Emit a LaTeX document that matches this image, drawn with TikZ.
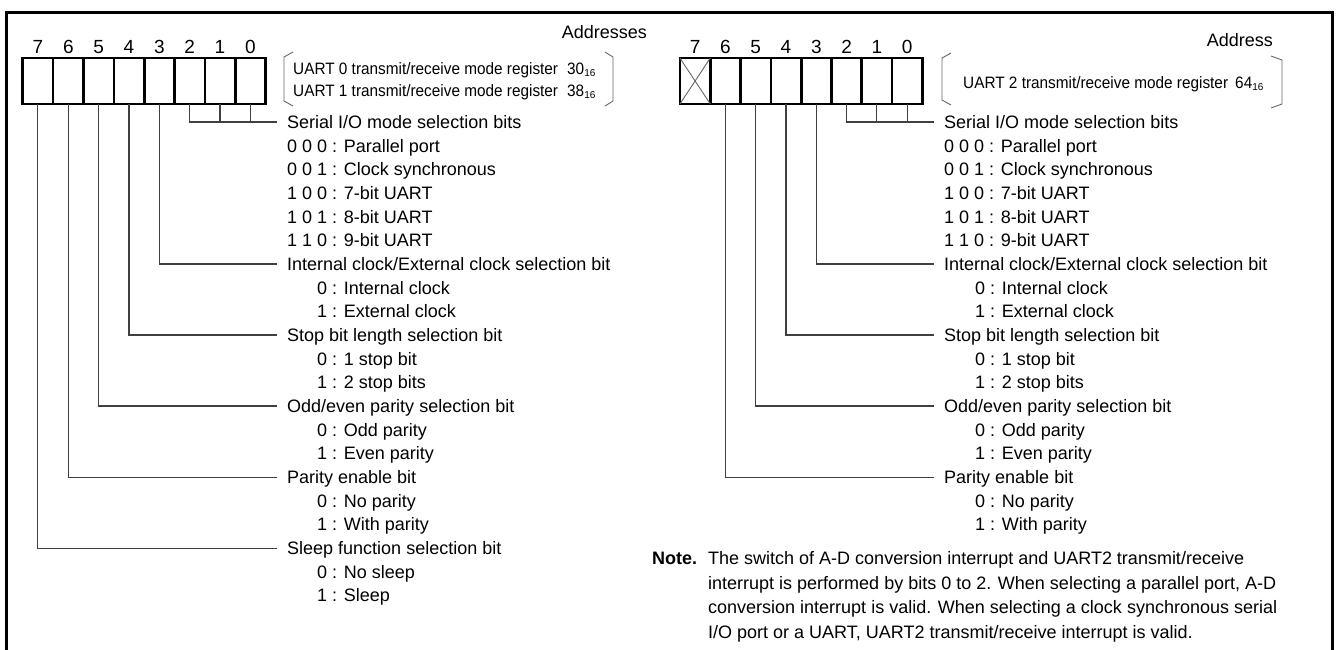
\documentclass[tikz,border=0pt]{standalone}
\usepackage{fontspec}
\setmainfont{Liberation Sans}
\begin{document}
\begin{tikzpicture}[x=1pt,y=-1pt,
  mainfont/.style={font=\fontsize{18}{20}\selectfont},
  lbl/.style={mainfont,anchor=west,inner xsep=10pt,inner ysep=0pt,text height=13pt,text depth=0pt},
  opt/.style={mainfont,anchor=west,inner xsep=0pt,inner ysep=0pt,text height=13pt,text depth=0pt},
  bitno/.style={font=\fontsize{19}{20}\selectfont,inner sep=0pt,text height=13.6pt,text depth=0pt},
  cell/.style={draw,line width=2.6pt,minimum width=30.4pt,minimum height=46pt,inner sep=0pt,outer sep=0pt},
  lead/.style={draw=black!75,line width=1.1pt},
  brk/.style={draw=black!60,line width=0.9pt},
  addr/.style={font=\fontsize{16.5}{18}\selectfont,anchor=west,inner sep=0pt,text height=12pt,text depth=0pt},
  hdr/.style={mainfont,inner sep=0pt,text height=13pt,text depth=0pt},
  note/.style={mainfont,anchor=west,inner sep=0pt,text height=13pt,text depth=0pt}]
\useasboundingbox (0,0) rectangle (1337,649);
\fill[white] (0,0) rectangle (1337,649);
% frame
\draw[line width=3pt] (6,660) -- (6,12) -- (1332,12) -- (1332,660);

% ===== left register =====
\foreach \b/\x in {7/37.9,6/68.3,5/98.6,4/129.0,3/159.3,2/189.7,1/220.0,0/250.4}{
  \node[cell] (Lc\b) at (\x,81) {};
  \node[bitno] (Lb\b) at (\x,47) {\b};
}
\node[hdr,anchor=east] (Laddrh) at (647,32) {Addresses};
\draw[brk] (293,52) -- (284,57) -- (284,101) -- (293,106);
\draw[brk] (605,52) -- (613,57) -- (613,101) -- (605,106);
\node[addr] (La0) at (293,68) {\scalebox{0.93}[1]{UART 0 transmit/receive mode register}};
\node[addr] (La0v) at (567,68) {\scalebox{0.93}[1]{30}{\fontsize{10}{10}\selectfont\raisebox{-2pt}{16}}};
\node[addr] (La1) at (293,90) {\scalebox{0.93}[1]{UART 1 transmit/receive mode register}};
\node[addr] (La1v) at (567,90) {\scalebox{0.93}[1]{38}{\fontsize{10}{10}\selectfont\raisebox{-2pt}{16}}};

\node[lbl] (Lser) at (277,122.0) {Serial I/O mode selection bits};
\node[opt] (Lser0) at (287,145.7) {0 0 0 : Parallel port};
\node[opt] (Lser1) at (287,169.3) {0 0 1 : Clock synchronous};
\node[opt] (Lser2) at (287,193.0) {1 0 0 : 7-bit UART};
\node[opt] (Lser3) at (287,216.7) {1 0 1 : 8-bit UART};
\node[opt] (Lser4) at (287,240.4) {1 1 0 : 9-bit UART};
\node[lbl] (Lclk) at (277,264.0) {Internal clock/External clock selection bit};
\node[opt] (Lclk0) at (317,287.7) {0 : Internal clock};
\node[opt] (Lclk1) at (317,311.4) {1 : External clock};
\node[lbl] (Lstp) at (277,335.0) {Stop bit length selection bit};
\node[opt] (Lstp0) at (317,358.7) {0 : 1 stop bit};
\node[opt] (Lstp1) at (317,382.4) {1 : 2 stop bits};
\node[lbl] (Lpar) at (277,406.0) {Odd/even parity selection bit};
\node[opt] (Lpar0) at (317,429.7) {0 : Odd parity};
\node[opt] (Lpar1) at (317,453.4) {1 : Even parity};
\node[lbl] (Lpen) at (277,477.1) {Parity enable bit};
\node[opt] (Lpen0) at (317,500.7) {0 : No parity};
\node[opt] (Lpen1) at (317,524.4) {1 : With parity};
\node[lbl] (Lslp) at (277,548.1) {Sleep function selection bit};
\node[opt] (Lslp0) at (317,571.7) {0 : No sleep};
\node[opt] (Lslp1) at (317,595.4) {1 : Sleep};

\draw[lead] (Lc2.south) |- (Lser.west);
\draw[lead] (Lc1.south) -- (Lc1.south |- Lser.west);
\draw[lead] (Lc0.south) -- (Lc0.south |- Lser.west);
\draw[lead] (Lc3.south) |- (Lclk.west);
\draw[lead] (Lc4.south) |- (Lstp.west);
\draw[lead] (Lc5.south) |- (Lpar.west);
\draw[lead] (Lc6.south) |- (Lpen.west);
\draw[lead] (Lc7.south) |- (Lslp.west);

% ===== right register =====
\foreach \b/\x in {7/695.1,6/725.4,5/755.7,4/786.0,3/816.3,2/846.6,1/876.9,0/907.2}{
  \node[cell] (Rc\b) at (\x,81) {};
  \node[bitno] (Rb\b) at (\x,47) {\b};
}
\draw[brk] (Rc7.north west) -- (Rc7.south east);
\draw[brk] (Rc7.south west) -- (Rc7.north east);
\node[hdr,anchor=east] (Raddrh) at (1273,40) {Address};
\draw[brk] (951,53) -- (942,58) -- (942,100) -- (951,105);
\draw[brk] (1271,56) -- (1282,60) -- (1282,104) -- (1271,108);
\node[addr] (Ra2) at (963,82) {\scalebox{0.93}[1]{UART 2 transmit/receive mode register}};
\node[addr] (Ra2v) at (1235,82) {\scalebox{0.93}[1]{64}{\fontsize{10}{10}\selectfont\raisebox{-2pt}{16}}};

\node[lbl] (Rser) at (934,122.0) {Serial I/O mode selection bits};
\node[opt] (Rser0) at (944,145.7) {0 0 0 : Parallel port};
\node[opt] (Rser1) at (944,169.3) {0 0 1 : Clock synchronous};
\node[opt] (Rser2) at (944,193.0) {1 0 0 : 7-bit UART};
\node[opt] (Rser3) at (944,216.7) {1 0 1 : 8-bit UART};
\node[opt] (Rser4) at (944,240.4) {1 1 0 : 9-bit UART};
\node[lbl] (Rclk) at (934,264.0) {Internal clock/External clock selection bit};
\node[opt] (Rclk0) at (975,287.7) {0 : Internal clock};
\node[opt] (Rclk1) at (975,311.4) {1 : External clock};
\node[lbl] (Rstp) at (934,335.0) {Stop bit length selection bit};
\node[opt] (Rstp0) at (975,358.7) {0 : 1 stop bit};
\node[opt] (Rstp1) at (975,382.4) {1 : 2 stop bits};
\node[lbl] (Rpar) at (934,406.0) {Odd/even parity selection bit};
\node[opt] (Rpar0) at (975,429.7) {0 : Odd parity};
\node[opt] (Rpar1) at (975,453.4) {1 : Even parity};
\node[lbl] (Rpen) at (934,477.1) {Parity enable bit};
\node[opt] (Rpen0) at (975,500.7) {0 : No parity};
\node[opt] (Rpen1) at (975,524.4) {1 : With parity};

\draw[lead] (Rc2.south) |- (Rser.west);
\draw[lead] (Rc1.south) -- (Rc1.south |- Rser.west);
\draw[lead] (Rc0.south) -- (Rc0.south |- Rser.west);
\draw[lead] (Rc3.south) |- (Rclk.west);
\draw[lead] (Rc4.south) |- (Rstp.west);
\draw[lead] (Rc5.south) |- (Rpar.west);
\draw[lead] (Rc6.south) |- (Rpen.west);

% ===== note =====
\node[note] (notelbl) at (652,558) {\textbf{Note.}};
\node[note] (note1) at (708,558) {The switch of A-D conversion interrupt and UART2 transmit/receive};
\node[note] (note2) at (708,582.5) {interrupt is performed by bits 0 to 2. When selecting a parallel port, A-D};
\node[note] (note3) at (708,607) {conversion interrupt is valid. When selecting a clock synchronous serial};
\node[note] (note4) at (708,631.5) {I/O port or a UART, UART2 transmit/receive interrupt is valid.};
\end{tikzpicture}
\end{document}
